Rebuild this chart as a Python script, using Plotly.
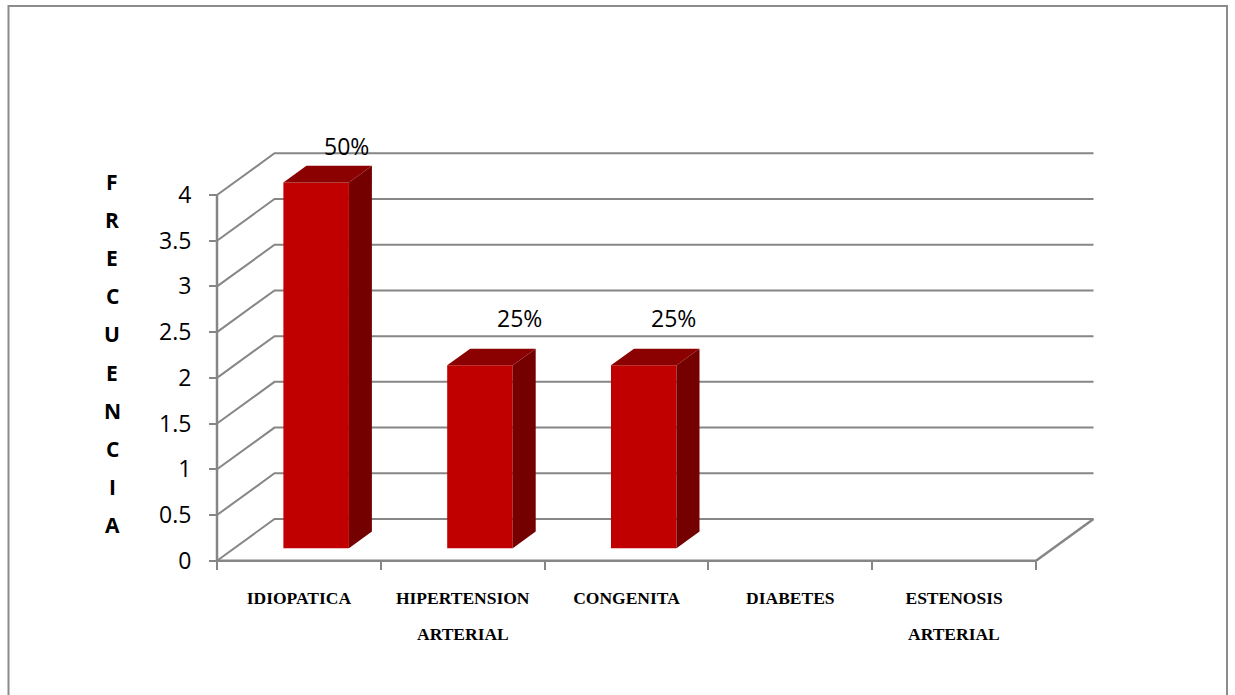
import plotly.graph_objects as go

categories = ["IDIOPATICA", "HIPERTENSION", "CONGENITA", "DIABETES", "ESTENOSIS"]
categories_line2 = ["", "ARTERIAL", "", "", "ARTERIAL"]
values = [4, 2, 2, 0, 0]
percent_labels = ["50%", "25%", "25%", "", ""]
y_ticks = [0, 0.5, 1, 1.5, 2, 2.5, 3, 3.5, 4]
y_title_letters = list("FRECUENCIA")

GRAY = "#868686"
FRONT = "#C00000"
SIDE = "#750000"
TOP = "#8B0000"

# canvas geometry (pixels)
W, H = 1235, 695
X0, Y0 = 217, 560.7            # where value 0 meets the first category edge
L, R, T, B = 205, 1100, 145, 572  # plot area, padded so that the walls are not clipped
N = len(categories)
PX_X = (1036 - X0) / N         # pixels per category
PX_Y = (Y0 - 195) / 4          # pixels per value unit
DX = (1093.5 - 1036) / PX_X    # depth of the floor in category units
DY = (Y0 - 519) / PX_Y         # depth of the floor in value units
BAR_W = 0.4
D0, D1 = 0.3, 0.7              # bar depth span


def px(x):
    return (x - L) / (R - L)


def py(y):
    return (B - y) / (B - T)


fig = go.Figure()

# back wall, side wall and floor lines
for v in y_ticks:
    fig.add_trace(go.Scatter(
        x=[0, DX, N + DX], y=[v, v + DY, v + DY], mode="lines",
        line=dict(color=GRAY, width=2), zorder=0,
        hoverinfo="skip", showlegend=False))
fig.add_trace(go.Scatter(
    x=[0, 0, None, 0, N, N + DX], y=[0, max(y_ticks), None, 0, 0, DY], mode="lines",
    line=dict(color=GRAY, width=2.5), zorder=0,
    hoverinfo="skip", showlegend=False))

# front faces of the bars
centers = [i + 0.5 for i in range(N)]
fig.add_trace(go.Bar(
    x=[c + D0 * DX for c in centers], y=values, base=[D0 * DY] * N, width=BAR_W,
    marker=dict(color=FRONT, line=dict(width=0)), zorder=1, showlegend=False))

# side and top faces follow from the same values
for c, v in zip(centers, values):
    if v <= 0:
        continue
    xr = c + BAR_W / 2
    xl = c - BAR_W / 2
    fx0, fy0 = D0 * DX, D0 * DY
    bx0, by0 = D1 * DX, D1 * DY
    fig.add_trace(go.Scatter(
        x=[xr + fx0, xr + bx0, xr + bx0, xr + fx0, xr + fx0],
        y=[fy0, by0, v + by0, v + fy0, fy0],
        mode="lines", fill="toself", fillcolor=SIDE, line=dict(width=0, color=SIDE),
        zorder=2, hoverinfo="skip", showlegend=False))
    fig.add_trace(go.Scatter(
        x=[xl + fx0, xl + bx0, xr + bx0, xr + fx0, xl + fx0],
        y=[v + fy0, v + by0, v + by0, v + fy0, v + fy0],
        mode="lines", fill="toself", fillcolor=TOP, line=dict(width=0, color=TOP),
        zorder=2, hoverinfo="skip", showlegend=False))

# percentage labels
label_shift = [(30, 36), (40, 47), (30, 47), (0, 0), (0, 0)]
for c, v, t, (sx, sy) in zip(centers, values, percent_labels, label_shift):
    if t:
        fig.add_annotation(
            x=c + D0 * DX, y=v + D0 * DY, text=t, xref="x", yref="y",
            xshift=sx, yshift=sy, showarrow=False, yanchor="middle",
            font=dict(family="Open Sans", size=23, color="#000000"))

# second line of the category labels
for c, t in zip(centers, categories_line2):
    if t:
        fig.add_annotation(
            x=c, y=py(634), xref="x", yref="paper", text=f"<b>{t}</b>",
            showarrow=False, yanchor="middle", xanchor="center",
            font=dict(family="Liberation Serif", size=17.5, color="#000000"))

# vertical axis title, one letter per line
for i, letter in enumerate(y_title_letters):
    fig.add_annotation(
        x=px(112), y=py(182 + i * 38.1), xref="paper", yref="paper", text=f"<b>{letter}</b>",
        showarrow=False, yanchor="middle", xanchor="center",
        font=dict(family="Open Sans", size=21, color="#000000"))

# outer frame
fig.add_shape(type="rect", xref="paper", yref="paper",
              x0=px(8.5), x1=px(1227), y0=py(706), y1=py(6),
              line=dict(color="#8C8C8C", width=2), layer="below")

fig.update_layout(
    width=W, height=H, autosize=False,
    margin=dict(l=L, r=W - R, t=T, b=H - B, pad=0),
    paper_bgcolor="white", plot_bgcolor="white",
    barmode="overlay", showlegend=False,
    xaxis=dict(
        range=[(L - X0) / PX_X, (R - X0) / PX_X], showgrid=False, zeroline=False, showline=False,
        anchor="free", position=py(Y0),
        tickmode="array", tickvals=centers, ticktext=[f"<b>{c}</b>" for c in categories],
        ticks="", tickangle=0, ticklabelstandoff=25,
        tickfont=dict(family="Liberation Serif", size=17.5, color="#000000"),
        minor=dict(tickmode="array", tickvals=list(range(N + 1)), ticks="outside",
                   ticklen=8, tickwidth=2, tickcolor=GRAY, showgrid=False)),
    yaxis=dict(
        range=[(Y0 - B) / PX_Y, (Y0 - T) / PX_Y], showgrid=False, zeroline=False, showline=False,
        anchor="free", position=px(X0),
        tickmode="array", tickvals=y_ticks, ticktext=[f"{t:g}" for t in y_ticks],
        ticks="outside", ticklen=8, tickwidth=2, tickcolor=GRAY, ticklabelstandoff=13,
        tickfont=dict(family="Open Sans", size=23, color="#000000")),
)

fig.write_html("out.html", config=dict(displayModeBar=False),
               post_script="document.body.style.margin='0';document.body.style.overflow='hidden';")
